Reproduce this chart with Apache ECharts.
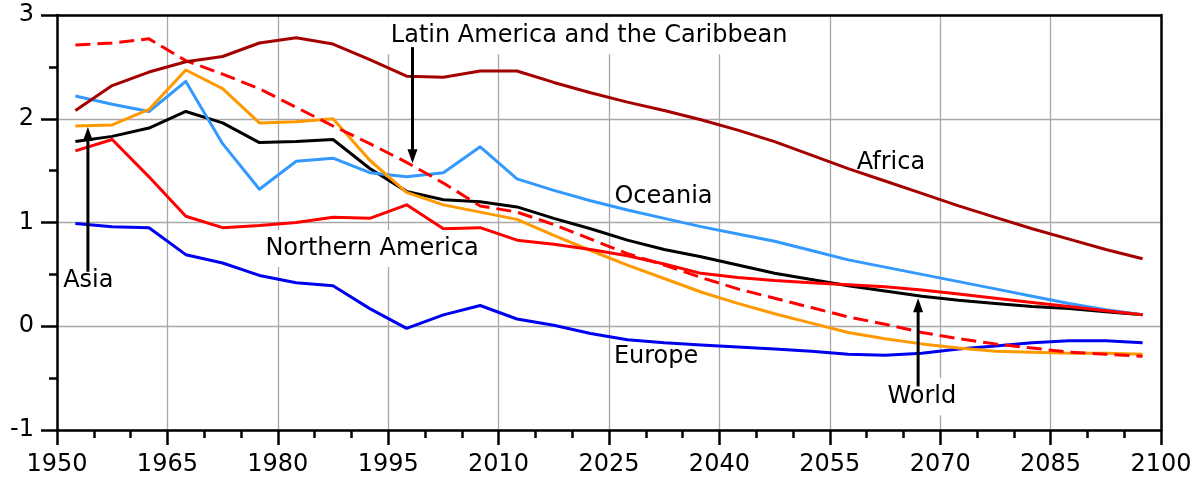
<!DOCTYPE html>
<html><head><meta charset="utf-8">
<script src="https://cdn.jsdelivr.net/npm/echarts@6/dist/echarts.min.js"></script>
<style>html,body{margin:0;padding:0;background:#fff}#c{width:1203px;height:481px}</style>
</head><body><div id="c"></div>
<script>
const years = [1952.5,1957.5,1962.5,1967.5,1972.5,1977.5,1982.5,1987.5,1992.5,1997.5,2002.5,2007.5,2012.5,2017.5,2022.5,2027.5,2032.5,2037.5,2042.5,2047.5,2052.5,2057.5,2062.5,2067.5,2072.5,2077.5,2082.5,2087.5,2092.5,2097.5];
const africa = [2.08,2.32,2.45,2.55,2.60,2.73,2.78,2.72,2.57,2.41,2.40,2.46,2.46,2.35,2.25,2.16,2.08,1.99,1.89,1.78,1.65,1.52,1.40,1.28,1.16,1.05,0.94,0.84,0.74,0.65];
const latinAmerica = [2.71,2.73,2.77,2.56,2.43,2.29,2.11,1.93,1.76,1.58,1.38,1.16,1.10,0.98,0.84,0.70,0.59,0.47,0.36,0.27,0.18,0.09,0.02,-0.06,-0.12,-0.17,-0.21,-0.25,-0.27,-0.29];
const northernAmerica = [1.69,1.80,1.44,1.06,0.95,0.97,1.00,1.05,1.04,1.17,0.94,0.95,0.83,0.79,0.74,0.68,0.60,0.51,0.47,0.44,0.42,0.40,0.38,0.35,0.31,0.27,0.23,0.19,0.15,0.11];
const oceania = [2.22,2.14,2.07,2.36,1.76,1.32,1.59,1.62,1.48,1.44,1.48,1.73,1.42,1.31,1.21,1.12,1.04,0.96,0.89,0.82,0.73,0.64,0.57,0.50,0.43,0.36,0.29,0.22,0.16,0.11];
const asia = [1.93,1.94,2.09,2.47,2.29,1.96,1.97,2.00,1.60,1.29,1.17,1.10,1.03,0.875,0.73,0.59,0.46,0.33,0.22,0.12,0.03,-0.06,-0.12,-0.17,-0.21,-0.24,-0.25,-0.26,-0.26,-0.27];
const europe = [0.99,0.96,0.95,0.69,0.61,0.49,0.42,0.39,0.17,-0.02,0.11,0.20,0.07,0.01,-0.07,-0.13,-0.16,-0.18,-0.20,-0.22,-0.24,-0.27,-0.28,-0.26,-0.22,-0.19,-0.16,-0.14,-0.14,-0.16];
const world = [1.78,1.83,1.91,2.07,1.96,1.77,1.78,1.80,1.52,1.30,1.22,1.20,1.15,1.04,0.94,0.83,0.74,0.67,0.59,0.51,0.45,0.39,0.34,0.29,0.25,0.22,0.19,0.17,0.14,0.11];

const xTickValues = [1950,1965,1980,1995,2010,2025,2040,2055,2070,2085,2100];
const yTickValues = [-1,0,1,2,3];

// annotation labels
const labelTexts = ['Latin America and the Caribbean','Northern America','Oceania','Africa','Europe','World','Asia'];
const labelYears = [2022.3,1992.8,2032.4,2063.3,2031.4,2067.5,1954.25];
const labelValues = [2.80,0.75,1.25,1.58,-0.29,-0.68,0.44];
const labelBg = [true,true,false,false,false,true,false];
// arrows: year, tail value, tip value
const arrowYears = [1998.3,1954.2,2067.0];
const arrowFrom = [2.69,0.525,-0.58];
const arrowTo = [1.57,1.92,0.27];

const FONT = 'DejaVu Sans';
function mk(name, vals, color, dashed) {
  return {
    name, type: 'line', data: years.map((y,i)=>[y, vals[i]]),
    showSymbol: false, symbol: 'none', silent: true, animation: false,
    lineStyle: { color, width: 3, type: dashed ? [15,7] : 'solid', cap: 'butt', join: 'round' },
    z: 3
  };
}
const chart = echarts.init(document.getElementById('c'), null, {renderer: 'canvas'});
const axisCommon = { type: 'value', min: 1950, max: 2100, interval: 15 };
chart.setOption({
  animation: false,
  backgroundColor: '#fff',
  grid: { left: 57, right: 42, top: 15, bottom: 51, containLabel: false },
  xAxis: [{
    ...axisCommon, position: 'bottom',
    axisLine: { show: true, onZero: false, lineStyle: { color: '#000', width: 2.5 } },
    axisTick: { show: true, length: 15, lineStyle: { color: '#000', width: 2.5 } },
    minorTick: { show: true, splitNumber: 3, length: 8, lineStyle: { color: '#000', width: 2.5 } },
    axisLabel: { show: true, margin: 23, color: '#000', fontFamily: FONT, fontSize: 24,
      formatter: v => xTickValues.includes(v) ? String(v) : '' },
    splitLine: { show: true, lineStyle: { color: '#a8a8a8', width: 1.3 } }
  }, {
    ...axisCommon, position: 'top',
    axisLine: { show: true, onZero: false, lineStyle: { color: '#000', width: 2.5 } },
    axisTick: { show: false }, axisLabel: { show: false }, splitLine: { show: false }
  }],
  yAxis: [{
    type: 'value', min: -1, max: 3, interval: 1, position: 'left',
    axisLine: { show: true, onZero: false, lineStyle: { color: '#000', width: 2.5 } },
    axisTick: { show: true, length: 16, lineStyle: { color: '#000', width: 2.5 } },
    minorTick: { show: true, splitNumber: 2, length: 8, lineStyle: { color: '#000', width: 2.5 } },
    axisLabel: { show: true, margin: 23, color: '#000', fontFamily: FONT, fontSize: 24,
      formatter: v => yTickValues.includes(v) ? String(v) : '' },
    splitLine: { show: true, lineStyle: { color: '#a8a8a8', width: 1.3 } }
  }, {
    type: 'value', min: -1, max: 3, interval: 1, position: 'right',
    axisLine: { show: true, onZero: false, lineStyle: { color: '#000', width: 2.5 } },
    axisTick: { show: false }, axisLabel: { show: false }, splitLine: { show: false }
  }],
  series: [
    mk('World', world, '#000000', false),
    mk('Europe', europe, '#0000F0', false),
    mk('Oceania', oceania, '#3399FF', false),
    mk('Asia', asia, '#FF9900', false),
    mk('Northern America', northernAmerica, '#FF0000', false),
    mk('Latin America and the Caribbean', latinAmerica, '#FF0000', true),
    mk('Africa', africa, '#A50000', false)
  ]
});

const graphics = [];
labelTexts.forEach((t,i) => {
  const p = chart.convertToPixel({xAxisIndex:0, yAxisIndex:0}, [labelYears[i], labelValues[i]]);
  graphics.push({
    type: 'text', x: p[0], y: p[1], z: 10, silent: true,
    style: {
      text: t, font: '24px "DejaVu Sans"', fill: '#000', align: 'center', verticalAlign: 'middle',
      backgroundColor: labelBg[i] ? '#fff' : null, padding: labelBg[i] ? [4,4,9,4] : 0
    }
  });
});
arrowYears.forEach((yr,i) => {
  const a = chart.convertToPixel({xAxisIndex:0, yAxisIndex:0}, [yr, arrowFrom[i]]);
  const b = chart.convertToPixel({xAxisIndex:0, yAxisIndex:0}, [yr, arrowTo[i]]);
  const dir = b[1] > a[1] ? 1 : -1;
  const headLen = 14, headW = 5;
  graphics.push({
    type: 'line', z: 11, silent: true,
    shape: { x1: a[0], y1: a[1], x2: b[0], y2: b[1] - dir*headLen*0.8 },
    style: { stroke: '#000', lineWidth: 3 }
  });
  graphics.push({
    type: 'polygon', z: 11, silent: true,
    shape: { points: [[b[0], b[1]], [b[0]-headW, b[1]-dir*headLen], [b[0]+headW, b[1]-dir*headLen]] },
    style: { fill: '#000' }
  });
});
chart.setOption({ graphic: graphics });
</script>
</body></html>
